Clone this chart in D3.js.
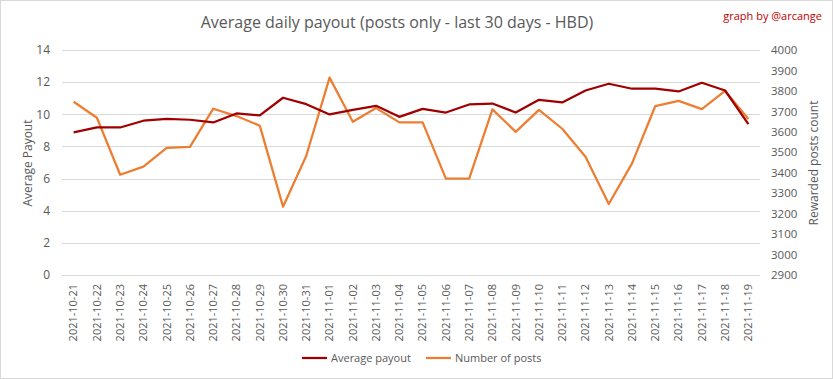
<!DOCTYPE html>
<html><head><meta charset="utf-8">
<script src="https://cdn.jsdelivr.net/npm/d3@7"></script>
<style>body{margin:0;background:#fff;} svg{display:block;font-family:"Open Sans",sans-serif;}</style>
</head><body>
<svg id="c" width="833" height="379"></svg>
<script>
const dates = ["2021-10-21","2021-10-22","2021-10-23","2021-10-24","2021-10-25","2021-10-26","2021-10-27","2021-10-28","2021-10-29","2021-10-30","2021-10-31","2021-11-01","2021-11-02","2021-11-03","2021-11-04","2021-11-05","2021-11-06","2021-11-07","2021-11-08","2021-11-09","2021-11-10","2021-11-11","2021-11-12","2021-11-13","2021-11-14","2021-11-15","2021-11-16","2021-11-17","2021-11-18","2021-11-19"];
const avgPayout = [8.87,9.18,9.18,9.6,9.72,9.66,9.49,10.05,9.93,11.03,10.63,9.99,10.28,10.53,9.84,10.34,10.11,10.61,10.67,10.11,10.9,10.74,11.48,11.9,11.59,11.59,11.42,11.96,11.48,9.39];
const numPosts = [3747,3669,3390,3430,3521,3526,3713,3677,3630,3234,3483,3865,3649,3716,3646,3646,3371,3371,3710,3600,3707,3615,3478,3247,3446,3726,3751,3711,3800,3663];
const leftTicks = [0,2,4,6,8,10,12,14];
const rightTicks = [2900,3000,3100,3200,3300,3400,3500,3600,3700,3800,3900,4000];

const svg = d3.select("#c");
const W=833,H=379;
const gray="#595959", grid="#d9d9d9";
const colPay="#a00000", colPosts="#ed7d31";

svg.append("rect").attr("x",0.5).attr("y",0.5).attr("width",W-1).attr("height",H-1).attr("fill","#fff").attr("stroke","#d9d9d9");

const x0=62,x1=760,yTop=50,yBot=275;
const x = d3.scaleBand().domain(dates).range([x0,x1]);
const yL = d3.scaleLinear().domain([0,14]).range([yBot,yTop]);
const yR = d3.scaleLinear().domain([2900,4000]).range([yBot,yTop]);

// gridlines
svg.append("g").selectAll("line").data(leftTicks).join("line")
  .attr("x1",x0).attr("x2",x1).attr("y1",d=>Math.round(yL(d))+0.5).attr("y2",d=>Math.round(yL(d))+0.5)
  .attr("stroke",grid).attr("stroke-width",1);

// left axis
const gL = svg.append("g").attr("transform",`translate(${x0-8},0)`)
  .call(d3.axisLeft(yL).tickValues(leftTicks).tickSize(0).tickPadding(4));
gL.select(".domain").remove();
gL.selectAll("text").attr("fill",gray).style("font-size","12px").style("font-family","Open Sans");

// right axis
const gR = svg.append("g").attr("transform",`translate(${x1+7},0)`)
  .call(d3.axisRight(yR).tickValues(rightTicks).tickFormat(d3.format("d")).tickSize(0).tickPadding(4));
gR.select(".domain").remove();
gR.selectAll("text").attr("fill",gray).style("font-size","11.5px").style("font-family","Open Sans");

// x axis
const gX = svg.append("g").attr("transform",`translate(0,${yBot})`)
  .call(d3.axisBottom(x).tickSize(0).tickPadding(0));
gX.select(".domain").remove();
gX.selectAll("text").attr("fill",gray).style("font-size","11px").style("font-family","Open Sans")
  .attr("text-anchor","end").attr("dx","-9px").attr("dy","0.35em").attr("x",0).attr("y",0)
  .attr("transform","rotate(-90)");

// lines
const cx = d=>x(d)+x.bandwidth()/2;
svg.append("path").datum(numPosts).attr("fill","none").attr("stroke",colPosts).attr("stroke-width",2.25)
  .attr("stroke-linejoin","round")
  .attr("d",d3.line().x((d,i)=>cx(dates[i])).y(d=>yR(d)));
svg.append("path").datum(avgPayout).attr("fill","none").attr("stroke",colPay).attr("stroke-width",2.25)
  .attr("stroke-linejoin","round")
  .attr("d",d3.line().x((d,i)=>cx(dates[i])).y(d=>yL(d)));

// titles
svg.append("text").attr("x",397).attr("y",28).attr("text-anchor","middle").attr("fill",gray)
  .style("font-size","16px").style("font-family","Open Sans").text("Average daily payout (posts only - last 30 days - HBD)");
svg.append("text").attr("x",822).attr("y",20).attr("text-anchor","end").attr("fill","#c00000")
  .style("font-size","11px").style("font-family","Open Sans").text("graph by @arcange");
svg.append("text").attr("transform","translate(32,163) rotate(-90)").attr("text-anchor","middle").attr("fill",gray)
  .style("font-size","12px").text("Average Payout");
svg.append("text").attr("transform","translate(818,163) rotate(-90)").attr("text-anchor","middle").attr("fill",gray)
  .style("font-size","12px").text("Rewarded posts count");

// legend
const leg=[{n:"Average payout",c:colPay,x:302},{n:"Number of posts",c:colPosts,x:426}];
const lg=svg.append("g");
lg.selectAll("line").data(leg).join("line").attr("x1",d=>d.x).attr("x2",d=>d.x+25).attr("y1",358).attr("y2",358)
  .attr("stroke",d=>d.c).attr("stroke-width",2.25);
lg.selectAll("text").data(leg).join("text").attr("x",d=>d.x+29).attr("y",358).attr("dy","0.35em").attr("fill",gray)
  .style("font-size","11px").text(d=>d.n);
</script>
</body></html>
